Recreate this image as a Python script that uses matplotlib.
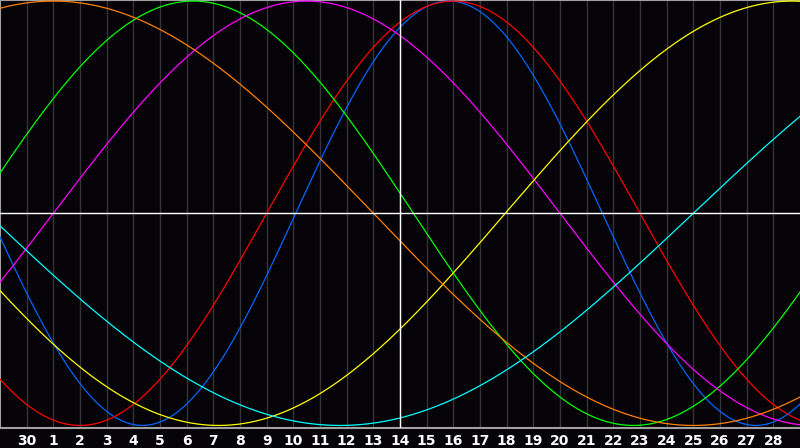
import numpy as np
import matplotlib
matplotlib.use('Agg')
import matplotlib.pyplot as plt

# Tageslabels (Tag 1..29 im Raster), heute = "14"
day_labels = ['30'] + [str(d) for d in range(1, 29)]
today_idx = 15

# Biorhythmus-Kurven: Periode (Tage) und Lage des Maximums (Rasterindex)
colors  = ['#0066ff', '#ff0000', '#00ff00', '#ff00ff', '#ffff00', '#ff8000', '#00ffff']
periods = [23, 28, 33, 38, 43, 48, 53]
peaks   = [16.84, 17.0, 7.25, 11.5, 29.7, 2.0, 39.25]

fig = plt.figure(figsize=(8, 4.48), dpi=100, facecolor='#050308')
ax = fig.add_axes([0, 20/448, 1, 428/448])
ax.set_facecolor('#050308')

x = np.linspace(0, 30, 1201)
for c, p, pk in zip(colors, periods, peaks):
    ax.plot(x, np.cos(2*np.pi*(x - pk)/p), color=c, lw=0.9, zorder=3)

ticks = np.arange(1, 30)
for t in ticks:
    ax.axvline(t, color='#353535', lw=1, zorder=1)
ax.axhline(0, color='white', lw=1.0, zorder=4)
ax.axvline(today_idx, color='white', lw=1.0, zorder=4)

ax.set_xlim(0, 30)
ax.set_ylim(-1.012, 1.005)
ax.set_xticks(ticks)
ax.set_xticklabels(day_labels, color='white', fontsize=10, fontweight='bold')
ax.tick_params(axis='x', length=0, pad=4)
ax.set_yticks([])
ax.spines['right'].set_visible(False)
for s in ['top', 'left', 'bottom']:
    ax.spines[s].set_color('#a0a0a0')
    ax.spines[s].set_linewidth(1.5)

fig.savefig('out.png', dpi=100, facecolor=fig.get_facecolor())
